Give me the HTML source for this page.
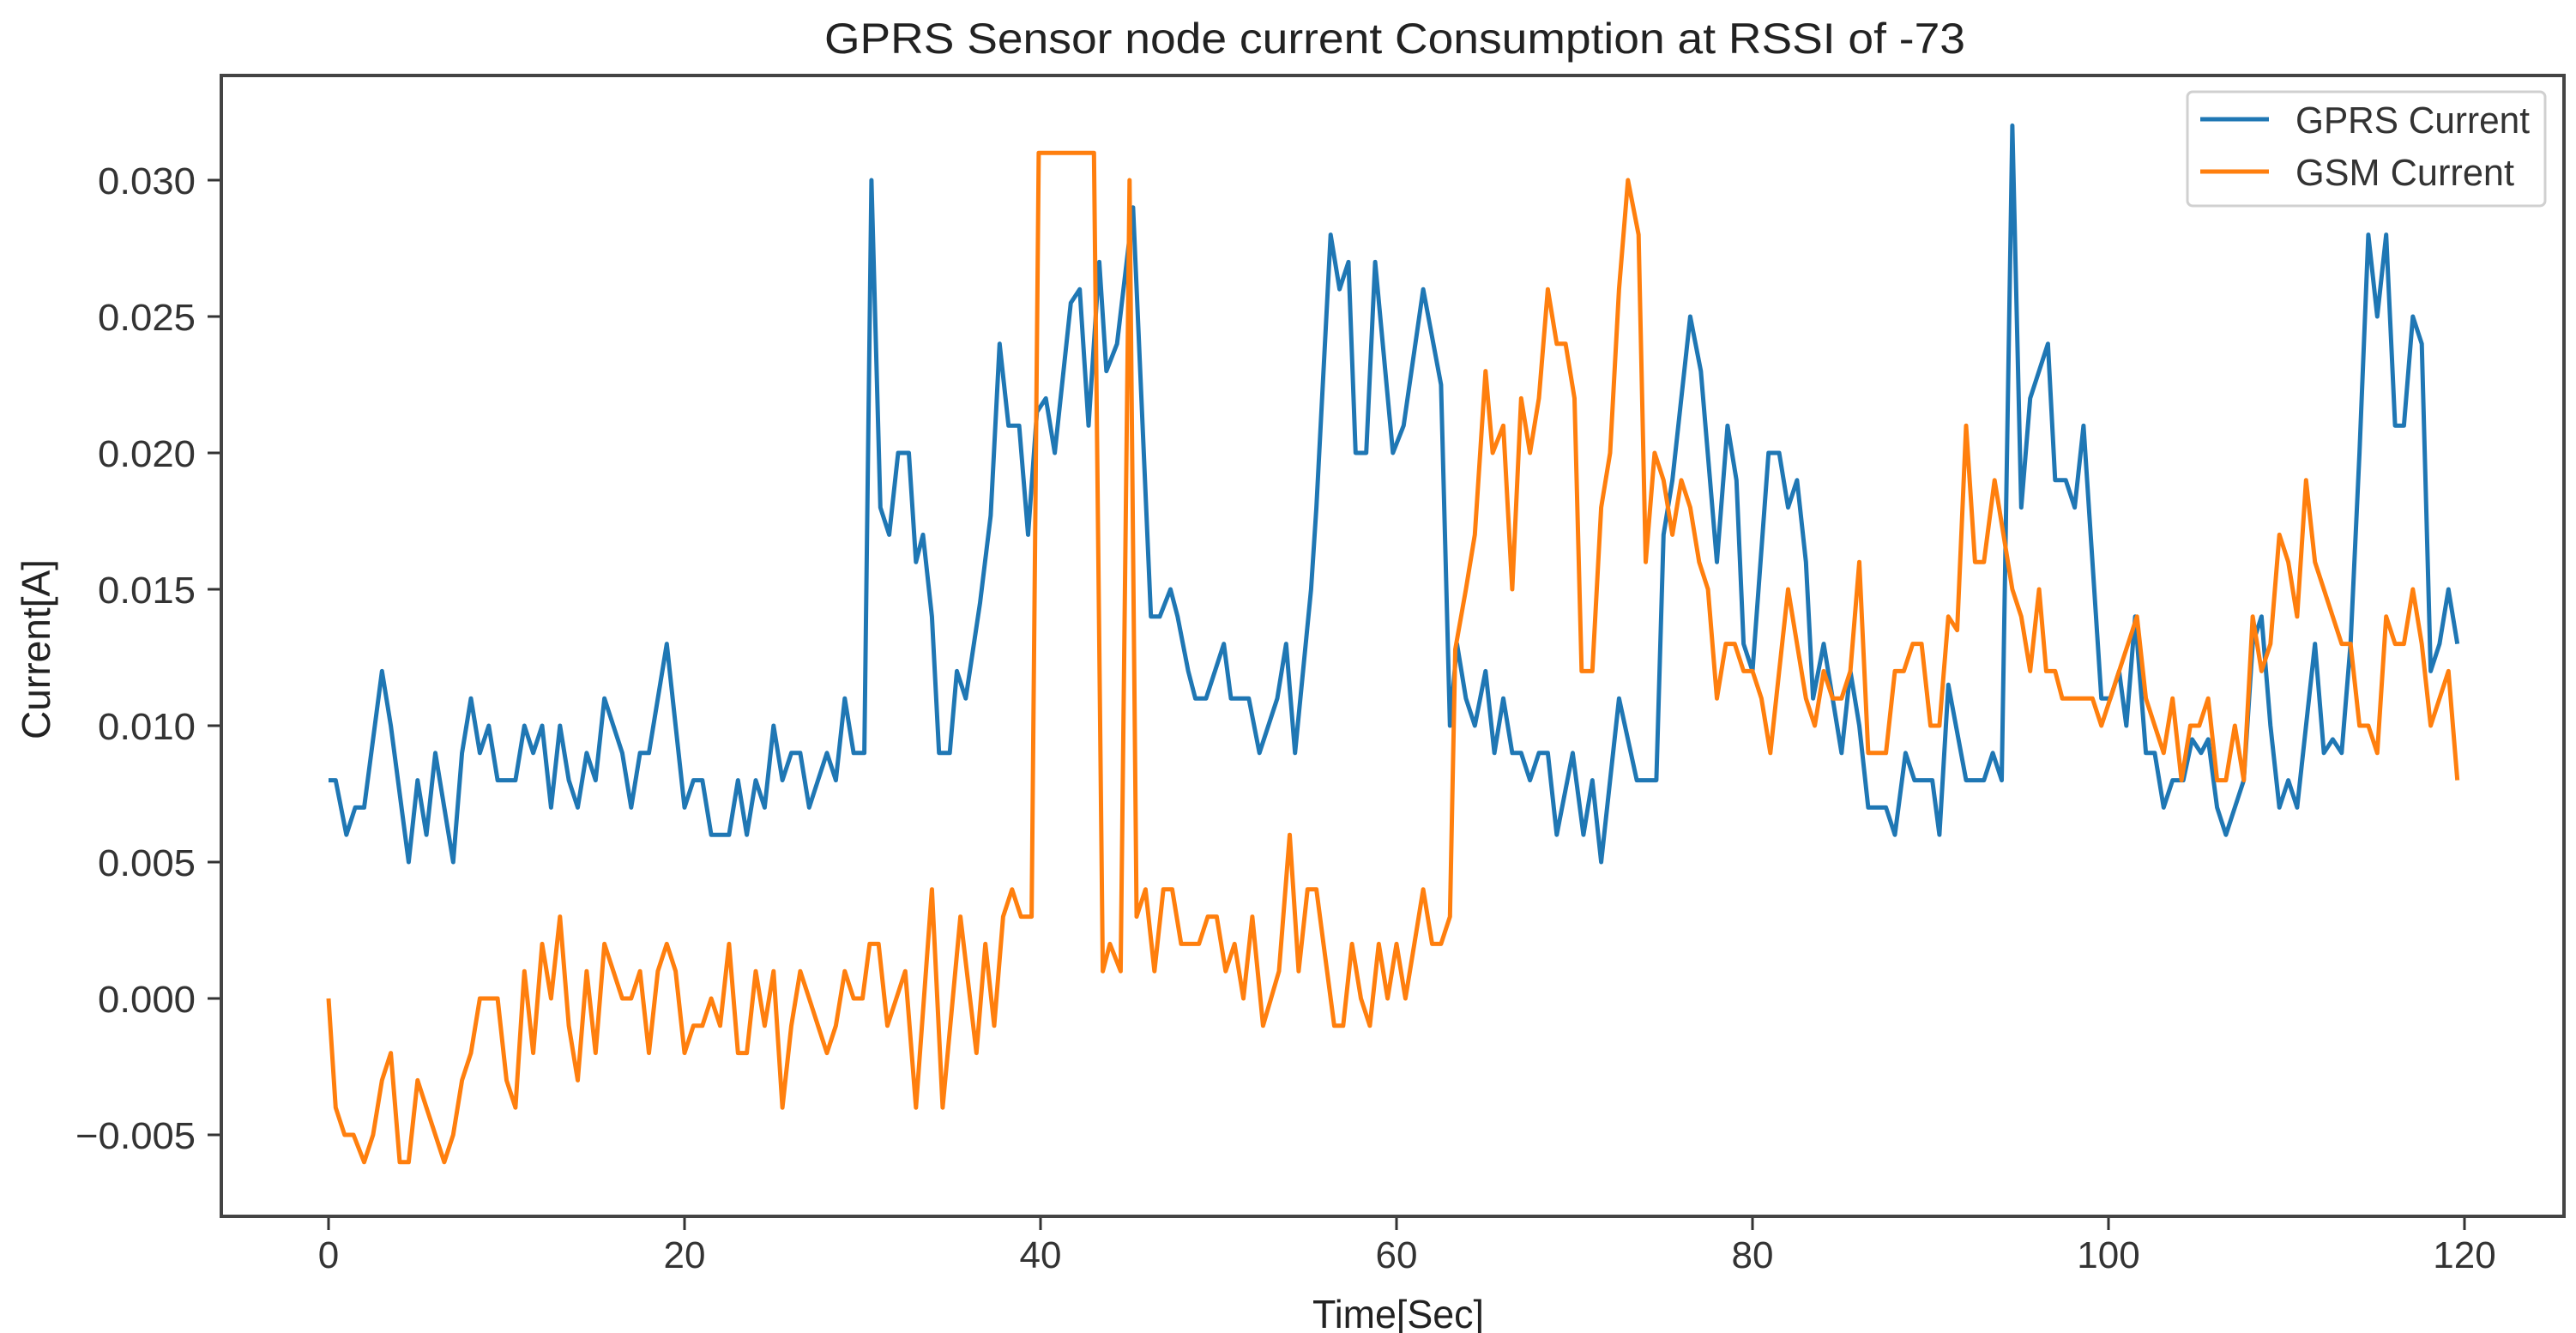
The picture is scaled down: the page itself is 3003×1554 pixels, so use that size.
<!DOCTYPE html>
<html><head><meta charset="utf-8"><style>
html,body{margin:0;padding:0;background:#fff;}
svg{display:block;font-family:"Liberation Sans","DejaVu Sans",sans-serif;}
</style></head><body>
<svg id="chart" width="3003" height="1554" viewBox="0 0 3003 1554" xmlns="http://www.w3.org/2000/svg">
<rect x="0" y="0" width="3003" height="1554" fill="#fff"/>
<text x="1626" y="62" text-anchor="middle" font-size="50" fill="#222" textLength="1330" lengthAdjust="spacingAndGlyphs">GPRS Sensor node current Consumption at RSSI of -73</text>
<g id="plot"></g>
<text x="1630" y="1548" text-anchor="middle" font-size="46" fill="#222" textLength="200" lengthAdjust="spacingAndGlyphs">Time[Sec]</text>
<text transform="translate(58,757) rotate(-90)" text-anchor="middle" font-size="46" fill="#222" textLength="210" lengthAdjust="spacingAndGlyphs">Current[A]</text>
<g>
<rect x="2550" y="107" width="417" height="133" rx="6" fill="#fff" stroke="#d0d0d0" stroke-width="3"/>
<line x1="2565" y1="139" x2="2645" y2="139" stroke="#1f77b4" stroke-width="5"/>
<text x="2676" y="155" font-size="44" fill="#333" textLength="273" lengthAdjust="spacingAndGlyphs">GPRS Current</text>
<line x1="2565" y1="200" x2="2645" y2="200" stroke="#ff7f0e" stroke-width="5"/>
<text x="2676" y="216" font-size="44" fill="#333" textLength="255" lengthAdjust="spacingAndGlyphs">GSM Current</text>
</g>
</svg>
<script>
const xTicks = [0, 20, 40, 60, 80, 100, 120];
const yTicks = [-0.005, 0, 0.005, 0.010, 0.015, 0.020, 0.025, 0.030];
const yTickLabels = ["\u22120.005", "0.000", "0.005", "0.010", "0.015", "0.020", "0.025", "0.030"];
const gprsTime = [0,0.4,1,1.5,2,3,3.5,4.5,5,5.5,6,6.5,7,7.5,8,8.5,9,9.5,10.5,11,11.5,12,12.5,13,13.5,14,14.5,15,15.5,16,16.5,17,17.5,18,19,19.5,20,20.5,21,21.5,22.5,23,23.5,24,24.5,25,25.5,26,26.5,27,27.5,28,28.5,29,29.5,30.1,30.5,31,31.5,32,32.6,33,33.4,33.9,34.3,34.9,35.3,35.8,36.6,37.2,37.7,38.2,38.8,39.3,39.8,40.3,40.8,41.7,42.2,42.7,43.3,43.7,44.3,45.2,46.2,46.7,47.3,47.7,48.3,48.7,49.3,50.3,50.7,51.7,52.3,53.3,53.8,54.3,55.2,55.5,56.3,56.8,57.3,57.7,58.3,58.8,59.8,60.4,61.5,62.5,63,63.4,63.9,64.4,65,65.5,66,66.5,67,67.5,68,68.5,69,69.9,70.5,71,71.5,72.5,73.5,74.6,75,75.5,76.5,77.1,78,78.6,79.1,79.5,80,80.9,81.5,82,82.5,83,83.4,84,84.5,85,85.5,86,86.5,87.5,88,88.6,89.1,90.1,90.5,91,92,93,93.5,94,94.6,95.1,95.6,96.6,97,97.6,98.1,98.6,99.6,100.1,100.6,101,101.5,102.1,102.6,103.1,103.6,104.2,104.7,105.2,105.6,106.1,106.6,107.1,107.6,108.1,108.6,109.1,109.6,110.1,110.6,111.6,112.1,112.6,113.1,113.6,114.1,114.6,115.1,115.6,116.1,116.6,117.1,117.6,118.1,118.6,119.1,119.6];
const gprsValue = [.008,.008,.006,.007,.007,.012,.010,.005,.008,.006,.009,.007,.005,.009,.011,.009,.010,.008,.008,.010,.009,.010,.007,.010,.008,.007,.009,.008,.011,.010,.009,.007,.009,.009,.013,.010,.007,.008,.008,.006,.006,.008,.006,.008,.007,.010,.008,.009,.009,.007,.008,.009,.008,.011,.009,.009,.030,.018,.017,.020,.020,.016,.017,.014,.009,.009,.012,.011,.0145,.0177,.024,.021,.021,.017,.0215,.022,.020,.0255,.026,.021,.027,.023,.024,.029,.014,.014,.015,.014,.012,.011,.011,.013,.011,.011,.009,.011,.013,.009,.015,.018,.028,.026,.027,.020,.020,.027,.020,.021,.026,.0225,.010,.013,.011,.010,.012,.009,.011,.009,.009,.008,.009,.009,.006,.009,.006,.008,.005,.011,.008,.008,.017,.019,.025,.023,.016,.021,.019,.013,.012,.020,.020,.018,.019,.016,.011,.013,.011,.009,.012,.010,.007,.007,.006,.009,.008,.008,.006,.0115,.008,.008,.009,.008,.032,.018,.022,.024,.019,.019,.018,.021,.011,.011,.012,.010,.014,.009,.009,.007,.008,.008,.0095,.009,.0095,.007,.006,.007,.008,.013,.014,.010,.007,.008,.007,.013,.009,.0095,.009,.013,.020,.028,.025,.028,.021,.021,.025,.024,.012,.013,.015,.013];
const gsmTime = [0,0.4,0.9,1.4,2,2.5,3,3.5,4,4.5,5,5.5,6.5,7,7.5,8,8.5,9.5,10,10.5,11,11.5,12,12.5,13,13.5,14,14.5,15,15.5,16,16.5,17,17.5,18,18.5,19,19.5,20,20.5,21,21.5,22,22.5,23,23.5,24,24.5,25,25.5,26,26.5,27,27.5,28,28.5,29,29.5,30,30.4,30.9,31.4,31.9,32.4,33,33.9,34.5,35.5,36.4,36.9,37.4,37.9,38.4,38.9,39.5,39.9,43,43.5,43.9,44.5,45,45.4,45.9,46.4,46.9,47.4,47.9,48.9,49.4,49.9,50.4,50.9,51.4,51.9,52.5,53.4,54,54.5,55,55.5,55.9,56.5,57,57.5,58,58.5,59,59.5,60,60.5,61,61.5,62,62.5,63,63.3,63.9,64.4,65,65.4,66,66.5,67,67.5,68,68.5,69,69.5,70,70.4,71,71.5,72,72.5,73,73.6,74,74.5,75,75.5,76,76.5,77,77.5,78,78.5,79,79.5,80,80.5,81,81.5,82,82.5,83,83.5,84,84.5,85,85.5,86,86.5,87.5,88,88.5,89,89.5,90,90.5,91,91.5,92,92.5,93,93.6,94.1,94.6,95.1,95.6,96.1,96.5,97,97.4,99.1,99.6,100.1,100.6,101.1,101.6,102.1,102.6,103.1,103.6,104.1,104.6,105.1,105.6,106.1,106.6,107.1,107.6,108.1,108.6,109.1,109.6,110.1,110.6,111.1,111.6,113.1,113.6,114.1,114.6,115.1,115.6,116.1,116.6,117.1,117.6,118.1,119.1,119.6];
const gsmValue = [0,-.004,-.005,-.005,-.006,-.005,-.003,-.002,-.006,-.006,-.003,-.004,-.006,-.005,-.003,-.002,0,0,-.003,-.004,.001,-.002,.002,0,.003,-.001,-.003,.001,-.002,.002,.001,0,0,.001,-.002,.001,.002,.001,-.002,-.001,-.001,0,-.001,.002,-.002,-.002,.001,-.001,.001,-.004,-.001,.001,0,-.001,-.002,-.001,.001,0,0,.002,.002,-.001,0,.001,-.004,.004,-.004,.003,-.002,.002,-.001,.003,.004,.003,.003,.031,.031,.001,.002,.001,.030,.003,.004,.001,.004,.004,.002,.002,.003,.003,.001,.002,0,.003,-.001,.001,.006,.001,.004,.004,.002,-.001,-.001,.002,0,-.001,.002,0,.002,0,.002,.004,.002,.002,.003,.0128,.015,.017,.023,.020,.021,.015,.022,.020,.022,.026,.024,.024,.022,.012,.012,.018,.020,.026,.030,.028,.016,.020,.019,.017,.019,.018,.016,.015,.011,.013,.013,.012,.012,.011,.009,.012,.015,.013,.011,.010,.012,.011,.011,.012,.016,.009,.009,.012,.012,.013,.013,.010,.010,.014,.0135,.021,.016,.016,.019,.017,.015,.014,.012,.015,.012,.012,.011,.011,.010,.011,.012,.013,.014,.011,.010,.009,.011,.008,.010,.010,.011,.008,.008,.010,.008,.014,.012,.013,.017,.016,.014,.019,.016,.013,.013,.010,.010,.009,.014,.013,.013,.015,.013,.010,.012,.008];

const NS = "http://www.w3.org/2000/svg";
const L = 258, R = 2989, T = 88, B = 1418;
function xScale(t){ return 383 + t * 20.75; }
function yScale(v){ return 1164 - v / 0.005 * 159; }
const plot = document.getElementById('plot');
function mk(tag, attrs){ const e = document.createElementNS(NS, tag); for (const k in attrs) e.setAttribute(k, attrs[k]); return e; }

// x ticks
xTicks.forEach(function(t){
  const g = mk('g', {});
  
  
  g.appendChild(mk('line', {x1: xScale(t), x2: xScale(t), y1: B, y2: B + 16, stroke: '#333', 'stroke-width': 3}));
  const tx = mk('text', {x: xScale(t), y: B + 60, 'text-anchor': 'middle', 'font-size': 44, fill: '#333'});
  tx.textContent = String(t);
  g.appendChild(tx);
  plot.appendChild(g);
});
// y ticks
yTicks.forEach(function(v, i){
  const g = mk('g', {});
  
  
  g.appendChild(mk('line', {x1: L - 16, x2: L, y1: yScale(v), y2: yScale(v), stroke: '#333', 'stroke-width': 3}));
  const tx = mk('text', {x: L - 30, y: yScale(v) + 16, 'text-anchor': 'end', 'font-size': 44, fill: '#333', textLength: yTickLabels[i].length > 5 ? 140 : 114, lengthAdjust: 'spacingAndGlyphs'});
  tx.textContent = yTickLabels[i];
  g.appendChild(tx);
  plot.appendChild(g);
});
function series(times, vals, color, name){
  let d = '';
  for (let i = 0; i < times.length; i++) d += (i ? 'L' : 'M') + xScale(times[i]).toFixed(1) + ',' + yScale(vals[i]).toFixed(1);
  const p = mk('path', {d: d, fill: 'none', stroke: color, 'stroke-width': 5, 'stroke-linejoin': 'round'});
  
  
  plot.appendChild(p);
}
series(gprsTime, gprsValue, '#1f77b4', 'gprs-current-line');
series(gsmTime, gsmValue, '#ff7f0e', 'gsm-current-line');
const frame = mk('rect', {x: L, y: T, width: R - L, height: B - T, fill: 'none', stroke: '#444', 'stroke-width': 4});


plot.appendChild(frame);
</script>
</body></html>
